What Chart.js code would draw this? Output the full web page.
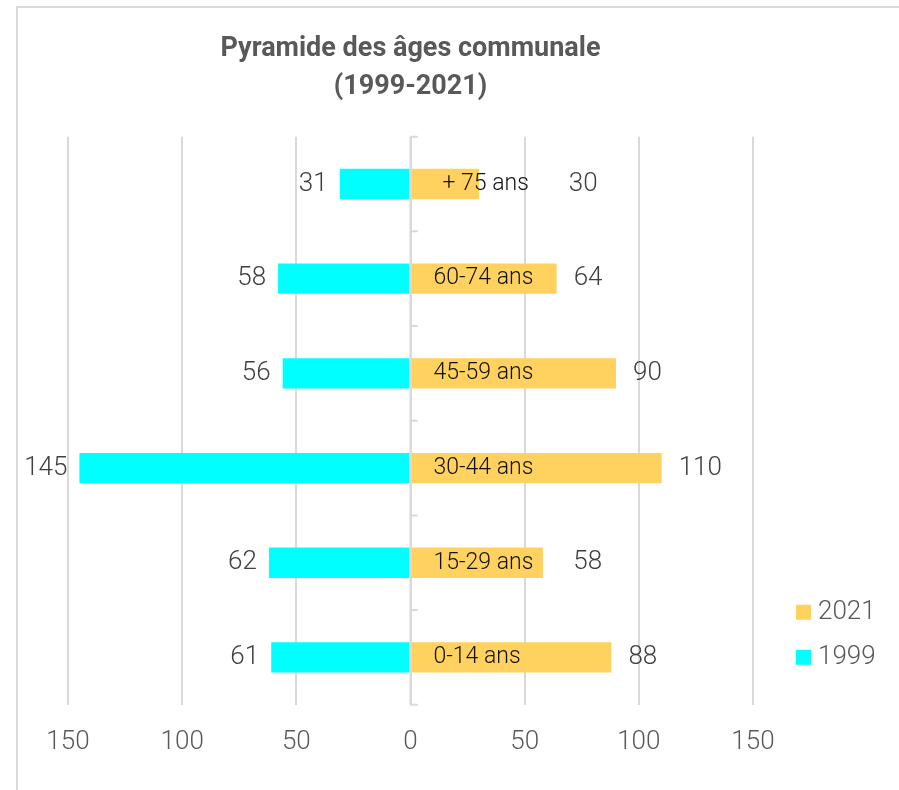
<!DOCTYPE html>
<html lang="fr">
<head>
<meta charset="utf-8">
<title>Pyramide des âges communale (1999-2021)</title>
<script src="https://cdn.jsdelivr.net/npm/chart.js@4.4.1/dist/chart.umd.min.js"></script>
<style>
  html, body { margin: 0; padding: 0; background: #fff; }
  canvas { display: block; }
</style>
</head>
<body>
<canvas id="pyramide" width="899" height="790"></canvas>
<script>
/* ---------- Données ---------- */
const AGES = ['+ 75 ans', '60-74 ans', '45-59 ans', '30-44 ans', '15-29 ans', '0-14 ans'];
const POP_1999 = [31, 58, 56, 145, 62, 61];
const POP_2021 = [30, 64, 90, 110, 58, 88];
const X_TICKS = [-150, -100, -50, 0, 50, 100, 150];
const TITLE = ['Pyramide des âges communale', '(1999-2021)'];

const C = {
  cyan: '#00FFFF', gold: '#FFD25F', grid: '#D9D9D9',
  title: '#595959', tick: '#595959', value: '#404040', cat: '#111111',
};
const FONT = 'Roboto, "Liberation Sans", Arial, sans-serif';
Chart.defaults.font.family = FONT;

/* ---------- Cadre, axe 0, étiquettes, légende ---------- */
const decor = {
  id: 'decor',
  beforeDraw(chart) {
    const { ctx } = chart;
    ctx.save();
    ctx.fillStyle = '#fff';
    ctx.fillRect(0, 0, chart.width, chart.height);
    ctx.strokeStyle = C.grid;
    ctx.lineWidth = 2;
    ctx.strokeRect(17, 7, chart.width + 40, chart.height + 40);
    ctx.restore();
  },
  afterDatasetsDraw(chart) {
    const { ctx, chartArea: a, scales: { x } } = chart;
    const x0 = x.getPixelForValue(0);
    const n = AGES.length;
    const step = (a.bottom - a.top) / n;

    // axe vertical à 0 + petites graduations entre classes
    ctx.save();
    ctx.strokeStyle = C.grid;
    ctx.lineWidth = 2;
    ctx.beginPath();
    ctx.moveTo(x0, a.top);
    ctx.lineTo(x0, a.bottom);
    for (let i = 0; i <= n; i++) {
      const yy = a.top + i * step;
      ctx.moveTo(x0, yy);
      ctx.lineTo(x0 + 7, yy);
    }
    ctx.stroke();

    const m99 = chart.getDatasetMeta(0).data;
    const m21 = chart.getDatasetMeta(1).data;
    ctx.textBaseline = 'middle';
    AGES.forEach((lab, i) => {
      const b99 = m99[i], b21 = m21[i];
      // classe d'âge (le "+" est légèrement décalé comme dans Excel)
      ctx.font = '300 23px ' + FONT;
      ctx.fillStyle = C.cat;
      ctx.textAlign = 'left';
      const lx = x0 + 23 + (lab.startsWith('+') ? 9 : 0);
      ctx.fillText(lab, lx, b21.y);
      const labEnd = lx + ctx.measureText(lab).width;
      // valeurs
      ctx.font = '300 26px ' + FONT;
      ctx.fillStyle = C.value;
      ctx.textAlign = 'right';
      ctx.fillText(String(POP_1999[i]), b99.x - 12, b99.y);
      ctx.textAlign = 'left';
      ctx.fillText(String(POP_2021[i]), Math.max(b21.x + 17, labEnd + 40), b21.y);
    });

    // légende (2021 au-dessus de 1999)
    const items = [chart.data.datasets[1], chart.data.datasets[0]];
    ctx.font = '300 26px ' + FONT;
    items.forEach((ds, k) => {
      const cy = a.bottom - 93 + k * 45;
      const lx = a.right + 43;
      ctx.fillStyle = ds.backgroundColor;
      ctx.fillRect(lx, cy - 7, 15, 15);
      ctx.fillStyle = C.tick;
      ctx.textAlign = 'left';
      ctx.fillText(ds.label, lx + 22, cy + 1);
    });
    ctx.restore();
  },
};

/* ---------- Graphique ---------- */
new Chart(document.getElementById('pyramide'), {
  type: 'bar',
  data: {
    labels: AGES,
    datasets: [
      { label: '1999', data: POP_1999.map((v) => -v), backgroundColor: C.cyan, borderWidth: 0 },
      { label: '2021', data: POP_2021, backgroundColor: C.gold, borderWidth: 0 },
    ],
  },
  options: {
    indexAxis: 'y',
    responsive: false,
    animation: false,
    layout: { padding: { left: 68, right: 146, top: 0, bottom: 10 } },
    datasets: { bar: { categoryPercentage: 1, barPercentage: 0.32 } },
    plugins: {
      legend: { display: false },
      tooltip: { enabled: false },
      title: {
        display: true,
        text: TITLE,
        color: C.title,
        font: { size: 27, weight: 'bold', lineHeight: 1.42 },
        padding: { top: 30, bottom: 30 },
      },
    },
    scales: {
      x: {
        stacked: true,
        min: -150,
        max: 150,
        afterBuildTicks: (s) => { s.ticks = X_TICKS.map((v) => ({ value: v })); },
        grid: { color: C.grid, lineWidth: 2, drawTicks: false },
        border: { display: false },
        ticks: {
          color: C.tick,
          padding: 22,
          font: { size: 26, weight: 300 },
          callback: (v) => String(Math.abs(v)),
        },
      },
      y: { stacked: true, display: false },
    },
  },
  plugins: [decor],
});
</script>
</body>
</html>
